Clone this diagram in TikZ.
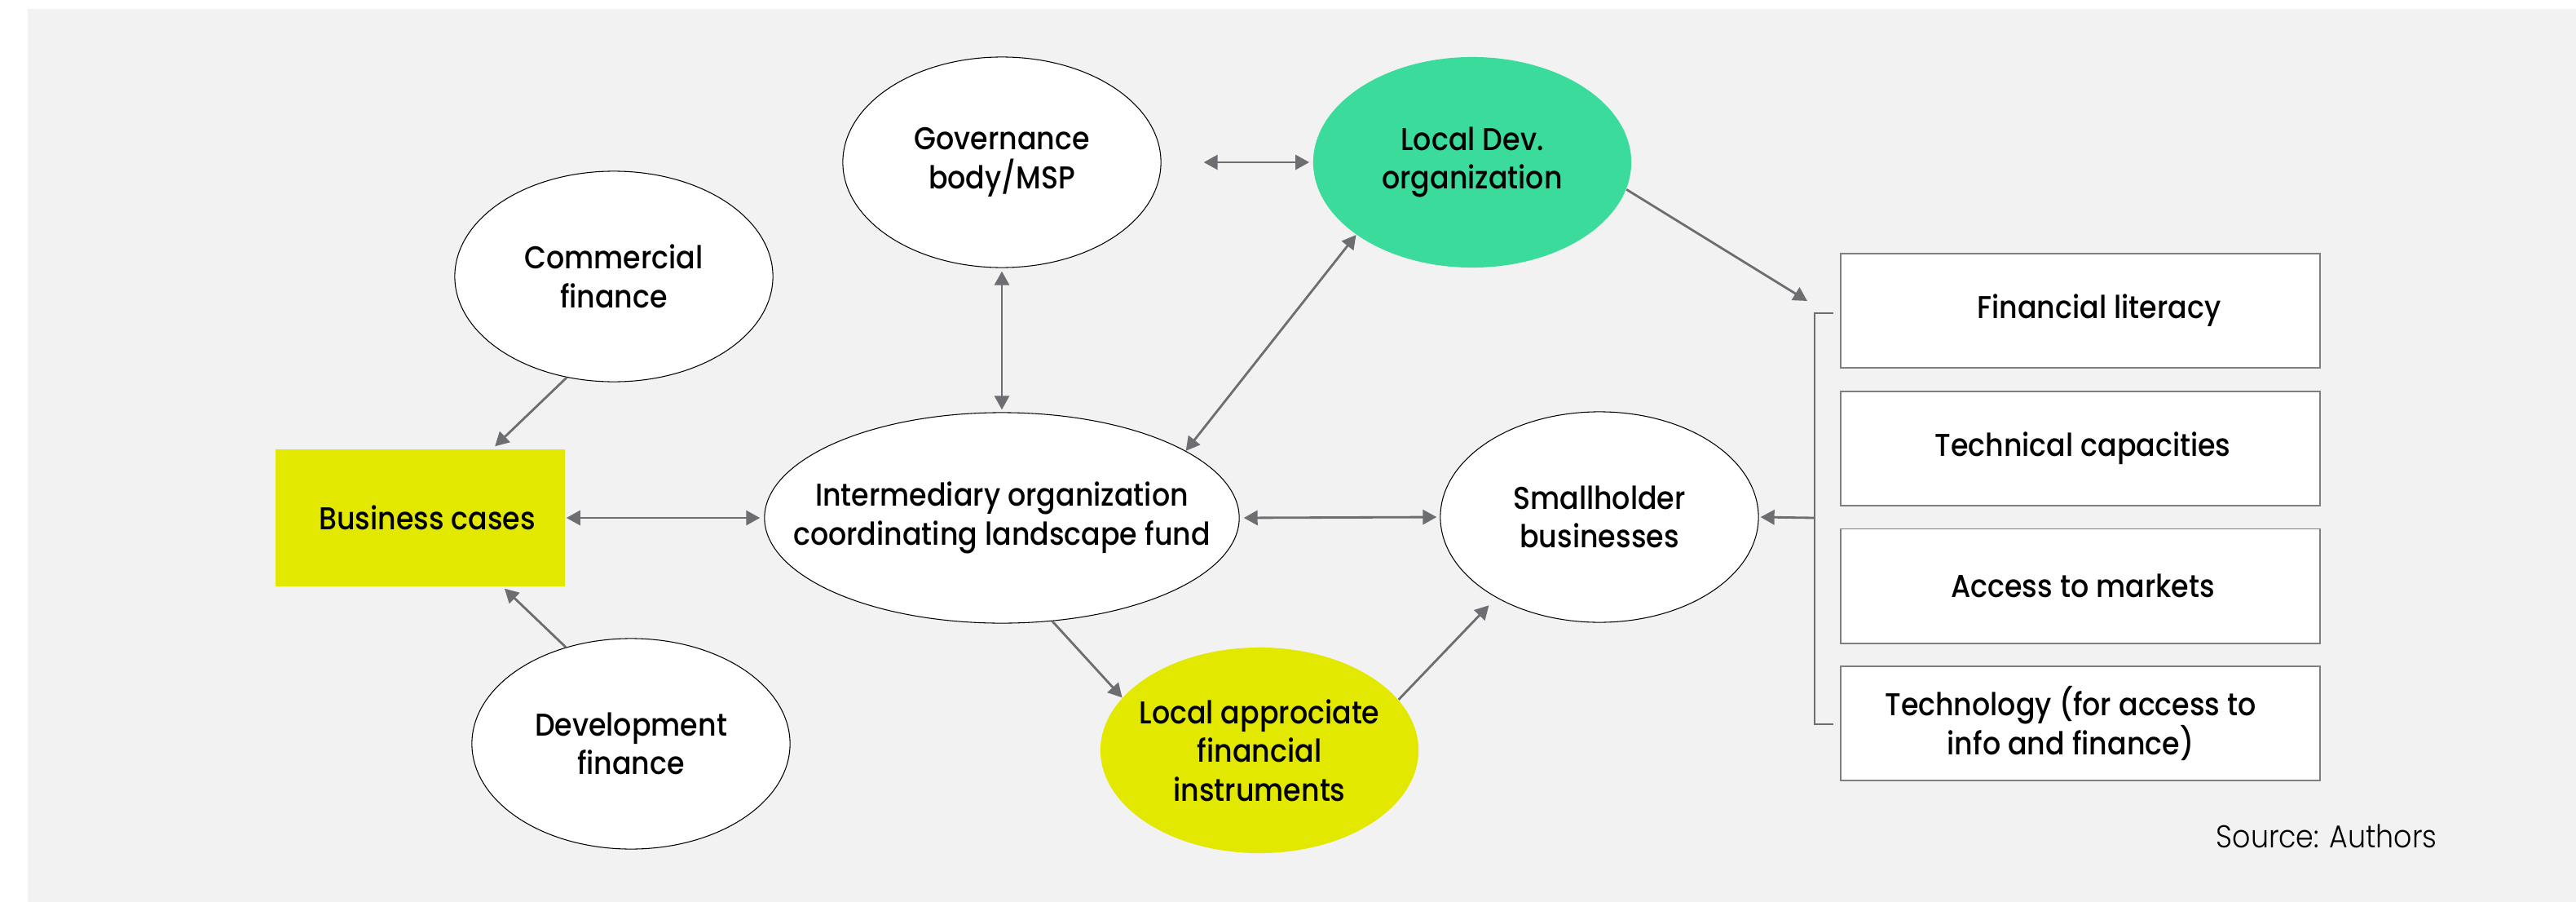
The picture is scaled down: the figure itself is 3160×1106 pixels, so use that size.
\documentclass[tikz,border=0pt]{standalone}
\usepackage{fontspec}
\setmainfont{Poppins}[UprightFont={* Medium}, FakeStretch=0.9]
\newfontfamily\srcfont{Poppins}[UprightFont={* Light}, FakeStretch=0.9]
\usetikzlibrary{shapes.geometric,arrows.meta,calc}
\definecolor{bg}{HTML}{F2F2F2}
\definecolor{agray}{HTML}{6D6E71}
\definecolor{bgray}{HTML}{7F7F7F}
\definecolor{yel}{HTML}{E2E800}
\definecolor{grn}{HTML}{3BDB9C}
\begin{document}
\begin{tikzpicture}[x=0.01cm,y=-0.01cm,
  ell/.style={ellipse, draw=black, line width=0.3pt, fill=white,
    minimum width=3.9cm, minimum height=2.58cm, inner sep=0pt},
  bigell/.style={ell, minimum width=5.82cm},
  filledell/.style={ellipse, draw=none, minimum width=3.9cm, minimum height=2.58cm, inner sep=0pt},
  txt/.style={align=center, font=\fontsize{11pt}{13.5pt}\selectfont, inner sep=0pt, text=black},
  boxnode/.style={rectangle, draw=bgray, line width=0.55pt, fill=white,
    minimum width=5.88cm, minimum height=1.40cm, inner sep=0pt},
  arr/.style={draw=agray, line width=0.8pt, -{Triangle[length=0.17cm,width=0.18cm]}},
  darr/.style={draw=agray, line width=0.8pt, {Triangle[length=0.17cm,width=0.18cm]}-{Triangle[length=0.17cm,width=0.18cm]}},
  brk/.style={draw=agray, line width=0.8pt}
]
\useasboundingbox (0,0) rectangle (3160,1106);
\fill[bg] (34,11) rectangle (3160,1106);

% nodes
\node[ell] (gv) at (1229,199) {};
\node[filledell, fill=grn] (ld) at (1806,199) {};
\node[ell] (cf) at (753,339) {};
\node[rectangle, fill=yel, minimum width=3.55cm, minimum height=1.68cm, inner sep=0pt] (bc) at (515.5,635) {};
\node[bigell] (im) at (1229,635) {};
\node[ell] (sh) at (1962,634) {};
\node[ell] (df) at (774,912) {};
\node[filledell, fill=yel, minimum height=2.52cm] (la) at (1545,920) {};

\node[boxnode] (b1) at (2552,381) {};
\node[boxnode] (b2) at (2552,550) {};
\node[boxnode] (b3) at (2552,718.5) {};
\node[boxnode] (b4) at (2552,887) {};

% texts
\node[txt] (gvt) at (gv) {Governance\\body/MSP};
\node[txt] (ldt) at (ld) {Local Dev.\\organization};
\node[txt] (cft) at (cf) {Commercial\\finance};
\node[txt] (bct) at (524,635) {Business cases};
\node[txt] (imt) at (im) {Intermediary organization\\coordinating landscape fund};
\node[txt] (sht) at (sh) {Smallholder\\businesses};
\node[txt] (dft) at (df) {Development\\finance};
\node[txt] (lat) at (la) {Local approciate\\financial\\instruments};
\node[txt] (b1t) at (2575,381) {Financial literacy};
\node[txt] (b2t) at (2555,550) {Technical capacities};
\node[txt] (b3t) at (2555,718.5) {Access to markets};
\node[txt] (b4t) at (2540,887) {Technology (for access to\\info and finance)};
\node[txt, font=\srcfont\fontsize{11pt}{13.5pt}\selectfont, anchor=base west] (src) at (2718,1039) {Source: Authors};

% bracket
\coordinate (brT1) at (2249,384);
\coordinate (brT0) at (2226,384);
\coordinate (brB0) at (2226,888);
\coordinate (brB1) at (2249,888);
\coordinate (brM) at (2226,635);
\coordinate (ldtip) at (2217,369);
\draw[brk] (brT1) -- (brT0) -- (brB0) -- (brB1);

% connectors
\draw[arr] (cf.-115.4) -- ($(bc.north west)!0.757!(bc.north east)+(0,-3)$);
\draw[arr] (df.124.1) -- ($(bc.south west)!0.79!(bc.south east)+(0,2)$);
\draw[darr, shorten <=0.01cm, shorten >=0.05cm] (bc.east) -- (im.west);
\draw[darr, shorten <=0.05cm, shorten >=0.04cm] (im.east) -- (sh.west);
\draw[darr, shorten <=0.04cm, shorten >=0.03cm] (gv.south) -- (im.north);
\draw[darr, shorten <=0.52cm, shorten >=0.04cm] (gv.east) -- (ld.west);
\draw[darr] (ld.212.5) -- (im.20.25);
\draw[arr] (im.-64.9) -- (la.159.3);
\draw[arr, shorten >=0.13cm] (la.20.1) -- (sh.218.2);
\draw[arr] (ld.-10.5) -- (ldtip);
\draw[arr, shorten >=0.02cm] (brM) -- (sh.east);
\end{tikzpicture}
\end{document}
